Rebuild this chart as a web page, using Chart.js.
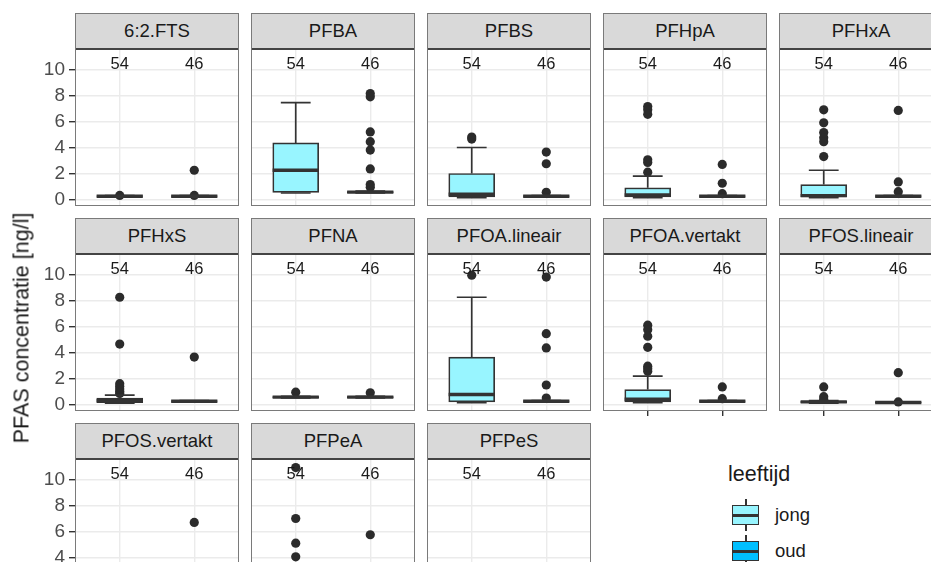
<!DOCTYPE html>
<html><head><meta charset="utf-8">
<script src="https://cdn.jsdelivr.net/npm/chart.js@4.4.0/dist/chart.umd.min.js"></script>
<style>
html,body{margin:0;padding:0;background:#fff;width:931px;height:562px;overflow:hidden;font-family:"Liberation Sans",Arial,sans-serif;}
#root{position:relative;width:931px;height:562px;overflow:hidden;}
.strip{position:absolute;box-sizing:border-box;background:#D9D9D9;border:1px solid #7a7a7a;border-bottom:2px solid #444;color:#1A1A1A;font-size:18.5px;text-align:center;line-height:34px;white-space:nowrap;overflow:hidden;}
.pborder{position:absolute;box-sizing:border-box;border:1px solid #7a7a7a;pointer-events:none;}
canvas{position:absolute;}
.txt{position:absolute;white-space:nowrap;color:#1A1A1A;}
.kk{position:absolute;box-sizing:border-box;}
</style></head><body><div id="root"></div>
<script>
// ---- data ----
const panelNames = ['6:2.FTS','PFBA','PFBS','PFHpA','PFHxA','PFHxS','PFNA','PFOA.lineair','PFOA.vertakt','PFOS.lineair','PFOS.vertakt','PFPeA','PFPeS'];
const groups = ['jong','oud'];
const groupCounts = [54, 46];
const yTickValues = [0,1,2,3,4,5,6,7,8,9,10,11];
// box statistics per panel: [lower whisker, Q1, median, Q3, upper whisker]
const jongStats = [
  [0.25,0.28,0.30,0.33,0.35],
  [0.55,0.60,2.30,4.40,7.50],
  [0.20,0.25,0.45,2.05,4.05],
  [0.20,0.25,0.40,0.95,1.85],
  [0.20,0.25,0.35,1.20,2.30],
  [0.15,0.20,0.35,0.55,0.77],
  [0.55,0.58,0.62,0.65,0.68],
  [0.20,0.25,0.82,3.70,8.30],
  [0.20,0.25,0.45,1.20,2.23],
  [0.15,0.20,0.25,0.30,0.35],
  [0.15,0.20,0.25,0.30,0.35],
  [0.20,0.30,0.60,1.40,3.00],
  [0.20,0.25,0.30,0.35,0.40]
];
const oudStats = [
  [0.25,0.28,0.30,0.33,0.35],
  [0.55,0.58,0.62,0.66,0.70],
  [0.25,0.28,0.30,0.33,0.35],
  [0.25,0.28,0.30,0.33,0.35],
  [0.25,0.28,0.30,0.33,0.35],
  [0.25,0.28,0.30,0.33,0.35],
  [0.55,0.58,0.62,0.65,0.68],
  [0.25,0.28,0.30,0.33,0.35],
  [0.25,0.28,0.30,0.33,0.35],
  [0.15,0.18,0.20,0.23,0.25],
  [0.25,0.28,0.30,0.33,0.35],
  [0.25,0.28,0.30,0.33,0.35],
  [0.25,0.28,0.30,0.33,0.35]
];
const jongOutliers = [
  [0.36],
  [],
  [4.85,4.7],
  [7.2,6.95,6.6,3.1,2.9,2.15],
  [6.95,5.95,5.2,4.8,4.5,3.35],
  [8.3,4.7,1.65,1.45,1.25,1.05,0.9],
  [1.0],
  [10.0],
  [6.15,5.8,5.3,4.45,3.0,2.8,2.6],
  [1.4,0.65,0.45],
  [],
  [10.97,7.05,5.15,4.1],
  []
];
const oudOutliers = [
  [2.3,0.36],
  [8.2,7.95,5.25,4.5,3.85,2.4,1.2,1.0],
  [3.7,2.8,0.6],
  [2.75,1.3,0.5],
  [6.9,1.4,0.65],
  [3.7],
  [0.95],
  [9.85,5.5,4.4,1.55,0.55],
  [1.4,0.5],
  [2.5,0.25],
  [6.75],
  [5.8],
  []
];
const groupFills = ['#98F5FF','#00BFFF'];
const yTitle = 'PFAS concentratie [ng/l]';
const legendTitle = 'leeftijd';

// ---- layout ----
const FONT = '"Liberation Sans", Arial, sans-serif';
const COL_X0 = 75, COL_PITCH = 176, PANEL_W = 164;
const ROW_Y0 = 13, ROW_PITCH = 205, STRIP_H = 37, PLOT_H = 156;
const Y_MIN = -0.45, Y_MAX = 11.55, LABEL_Y = 10.4;
const BOX_HALF = 0.31, CAP_HALF = 0.2;
const INK = '#333333';
const root = document.getElementById('root');

const boxPlugin = {
  id: 'boxExtras',
  beforeDatasetDraw(chart, args) {
    if (args.index !== 0) return;
    const st = chart.canvas._stats; const {ctx, chartArea: a} = chart;
    const x = chart.scales.x, y = chart.scales.y;
    ctx.save(); ctx.beginPath(); ctx.rect(a.left, a.top, a.right - a.left, a.bottom - a.top); ctx.clip();
    ctx.strokeStyle = INK; ctx.lineWidth = 1.7; ctx.lineCap = 'butt';
    st.forEach((s, k) => {
      const px = x.getPixelForValue(k + 1);
      const l = x.getPixelForValue(k + 1 - CAP_HALF), r = x.getPixelForValue(k + 1 + CAP_HALF);
      ctx.beginPath();
      ctx.moveTo(px, y.getPixelForValue(s[0])); ctx.lineTo(px, y.getPixelForValue(s[1]));
      ctx.moveTo(px, y.getPixelForValue(s[3])); ctx.lineTo(px, y.getPixelForValue(s[4]));
      ctx.moveTo(l, y.getPixelForValue(s[0])); ctx.lineTo(r, y.getPixelForValue(s[0]));
      ctx.moveTo(l, y.getPixelForValue(s[4])); ctx.lineTo(r, y.getPixelForValue(s[4]));
      ctx.stroke();
    });
    ctx.restore();
  },
  afterDatasetDraw(chart, args) {
    if (args.index !== 0) return;
    const st = chart.canvas._stats; const {ctx} = chart;
    const x = chart.scales.x, y = chart.scales.y;
    ctx.save(); ctx.strokeStyle = INK; ctx.lineWidth = 3.4;
    st.forEach((s, k) => {
      const py = y.getPixelForValue(s[2]);
      ctx.beginPath();
      ctx.moveTo(x.getPixelForValue(k + 1 - BOX_HALF), py);
      ctx.lineTo(x.getPixelForValue(k + 1 + BOX_HALF), py);
      ctx.stroke();
    });
    ctx.restore();
  },
  afterDatasetsDraw(chart) {
    const {ctx} = chart; const x = chart.scales.x, y = chart.scales.y;
    ctx.save(); ctx.fillStyle = '#1A1A1A'; ctx.font = '16.5px ' + FONT;
    ctx.textAlign = 'center'; ctx.textBaseline = 'middle';
    groupCounts.forEach((n, k) => ctx.fillText(String(n), x.getPixelForValue(k + 1), y.getPixelForValue(LABEL_Y)));
    ctx.restore();
  }
};

function zeroPad(s) { s.paddingTop = 0; s.paddingBottom = 0; s.paddingLeft = 0; s.paddingRight = 0; }

panelNames.forEach((name, i) => {
  const col = i % 5, row = Math.floor(i / 5);
  const left = COL_X0 + col * COL_PITCH;
  const stripTop = ROW_Y0 + row * ROW_PITCH;
  const plotTop = stripTop + STRIP_H;
  const hasX = (row === 1 && col >= 3) || row === 2;
  const firstCol = col === 0;

  const cv = document.createElement('canvas');
  const cLeft = firstCol ? 0 : left;
  const cW = PANEL_W + (firstCol ? left : 0);
  const cH = PLOT_H + (hasX ? 7 : 0);
  cv.width = cW; cv.height = cH;
  cv.style.left = cLeft + 'px'; cv.style.top = plotTop + 'px';
  cv.style.width = cW + 'px'; cv.style.height = cH + 'px';
  root.appendChild(cv);
  cv._stats = [jongStats[i], oudStats[i]];

  const strip = document.createElement('div');
  strip.className = 'strip';
  strip.style.left = left + 'px'; strip.style.top = stripTop + 'px';
  strip.style.width = PANEL_W + 'px'; strip.style.height = STRIP_H + 'px';
  strip.textContent = name;
  root.appendChild(strip);

  const pb = document.createElement('div');
  pb.className = 'pborder';
  pb.style.left = left + 'px'; pb.style.top = stripTop + 'px';
  pb.style.width = PANEL_W + 'px'; pb.style.height = (STRIP_H + PLOT_H) + 'px';
  root.appendChild(pb);

  const stats = [jongStats[i], oudStats[i]];
  const outl = [];
  jongOutliers[i].forEach(v => outl.push({x: 1, y: v}));
  oudOutliers[i].forEach(v => outl.push({x: 2, y: v}));

  new Chart(cv, {
    type: 'bar',
    data: {
      datasets: [
        { type: 'bar', data: stats.map((s, k) => ({x: k + 1, y: [s[1], s[3]]})),
          backgroundColor: groupFills, borderColor: INK, borderWidth: 1.7, borderSkipped: false,
          barThickness: 46, order: 1 },
        { type: 'scatter', data: outl, pointRadius: 4.6, pointHoverRadius: 4.6,
          backgroundColor: '#2b2b2b', borderWidth: 0, order: 3 }
      ]
    },
    options: {
      animation: false, responsive: false, maintainAspectRatio: false, devicePixelRatio: 1,
      layout: { padding: 0, autoPadding: false },
      events: [],
      plugins: { legend: { display: false }, tooltip: { enabled: false } },
      scales: {
        x: {
          type: 'linear', min: 0.4, max: 2.6, offset: false,
          afterBuildTicks: s => { s.ticks = [{value: 1}, {value: 2}]; },
          ticks: { display: false },
          grid: { color: '#EBEBEB', lineWidth: 1.4, offset: false, drawTicks: hasX, tickLength: 5, tickColor: INK, tickWidth: 1.4 },
          border: { display: false },
          afterFit: s => { s.height = hasX ? 7 : 0; zeroPad(s); }
        },
        y: {
          type: 'linear', min: Y_MIN, max: Y_MAX,
          afterBuildTicks: s => { s.ticks = yTickValues.map(v => ({value: v})); },
          ticks: { display: firstCol, autoSkip: false, padding: 4, color: '#4D4D4D',
                   font: { size: 19, family: FONT },
                   callback: v => (v % 2 === 0 ? String(v) : null) },
          grid: {
            color: c => (c.tick && c.tick.value % 2 === 0) ? '#EBEBEB' : '#F1F1F1',
            lineWidth: c => (c.tick && c.tick.value % 2 === 0) ? 1.4 : 0.8,
            drawTicks: firstCol, tickLength: 6,
            tickColor: c => (c.tick && c.tick.value % 2 === 0) ? INK : 'rgba(0,0,0,0)',
            tickWidth: 1.4
          },
          border: { display: false },
          afterFit: s => { s.width = firstCol ? left : 0; zeroPad(s); }
        }
      }
    },
    plugins: [boxPlugin]
  });
});

// y-axis title
const yt = document.createElement('div');
yt.className = 'txt';
yt.style.cssText += 'left:22px;top:328px;font-size:21.5px;transform:translate(-50%,-50%) rotate(-90deg);';
yt.textContent = yTitle;
root.appendChild(yt);

// legend
const lt = document.createElement('div');
lt.className = 'txt';
lt.style.cssText += 'left:728px;top:462px;font-size:21.5px;line-height:24px;';
lt.textContent = legendTitle;
root.appendChild(lt);

function addKey(top, fill, label) {
  const w = document.createElement('div'); w.className = 'kk';
  w.style.cssText += `left:745px;top:${top - 6}px;width:2px;height:32px;background:${INK};`;
  root.appendChild(w);
  const b = document.createElement('div'); b.className = 'kk';
  b.style.cssText += `left:732px;top:${top}px;width:27px;height:20px;background:${fill};border:1.7px solid ${INK};`;
  root.appendChild(b);
  const m = document.createElement('div'); m.className = 'kk';
  m.style.cssText += `left:732px;top:${top + 9}px;width:27px;height:2.5px;background:${INK};`;
  root.appendChild(m);
  const t = document.createElement('div'); t.className = 'txt';
  t.style.cssText += `left:775px;top:${top - 1}px;font-size:18.5px;line-height:22px;`;
  t.textContent = label;
  root.appendChild(t);
}
addKey(505, groupFills[0], groups[0]);
addKey(541, groupFills[1], groups[1]);
</script>
</body></html>
